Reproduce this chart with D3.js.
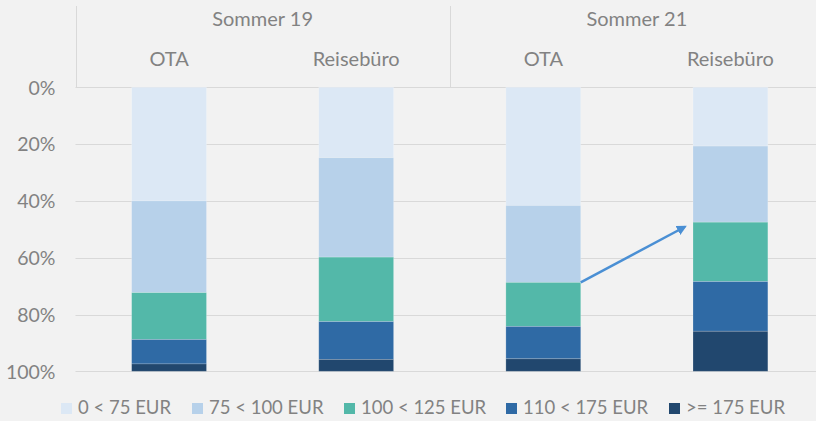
<!DOCTYPE html>
<html lang="de">
<head>
    <meta charset="UTF-8">
    <title>Preisklassen</title>
    <script src="https://d3js.org/d3.v7.min.js"></script>
    <style>
        body { margin: 0; background: #f2f2f2; }
        text { font-family: Lato, "Open Sans", sans-serif; fill: #828282; }
    </style>
</head>
<body>
<script>
    // Daten
    var groups = ['Sommer 19', 'Sommer 21'];
    var channels = ['OTA', 'Reisebüro'];
    var categories = ['S19 OTA', 'S19 Reisebüro', 'S21 OTA', 'S21 Reisebüro'];
    var seriesNames = ['0 < 75 EUR', '75 < 100 EUR', '100 < 125 EUR', '110 < 175 EUR', '>= 175 EUR'];
    var colors = ['#dce8f5', '#b7d1ea', '#53b8a9', '#2f6aa5', '#21476e'];
    // Anteile je Kategorie (von oben nach unten gestapelt)
    var s0 = [0.400, 0.248, 0.416, 0.207];
    var s1 = [0.323, 0.350, 0.271, 0.268];
    var s2 = [0.165, 0.227, 0.155, 0.209];
    var s3 = [0.086, 0.133, 0.114, 0.175];
    var s4 = [0.026, 0.042, 0.044, 0.141];
    var yTicks = [0, 0.2, 0.4, 0.6, 0.8, 1];

    var width = 816;
    var height = 421;
    var svg = d3.select('body').append('svg').attr('width', width).attr('height', height);

    var plotLeft = 75.5, plotRight = 824, plotTop = 87.3, plotBottom = 371.3;

    // Tabelle für d3.stack bauen
    var table = categories.map((c, i) => {
        var row = {cat: c};
        [s0, s1, s2, s3, s4].forEach((s, j) => row[seriesNames[j]] = s[i]);
        return row;
    });
    var stacked = d3.stack().keys(seriesNames)(table);

    var x = d3.scaleBand().domain(categories).range([plotLeft, plotRight])
        .paddingInner(0.6).paddingOuter(0.3);
    var y = d3.scaleLinear().domain([0, 1]).range([plotTop, plotBottom]);

    // Gitternetzlinien
    svg.append('g').selectAll('line').data(yTicks.slice(1)).enter().append('line')
        .attr('x1', plotLeft).attr('x2', width)
        .attr('y1', d => Math.round(y(d)) + 0.5).attr('y2', d => Math.round(y(d)) + 0.5)
        .attr('stroke', '#d9d9d9').attr('stroke-width', 1);

    // Y-Achse
    var yAxis = svg.append('g').attr('transform', 'translate(' + (plotLeft - 20) + ',0)')
        .call(d3.axisLeft(y).tickValues(yTicks).tickFormat(d3.format('.0%')).tickSize(0).tickPadding(0));
    yAxis.select('.domain').remove();
    yAxis.selectAll('text').style('font-size', '19.5px').attr('fill', '#828282').attr('dy', '0.35em');

    // Kopfzeilen (Gruppen + Kanäle)
    var header = svg.append('g');
    var groupWidth = x.step() * 2;
    header.append('line')
        .attr('x1', plotLeft).attr('x2', width)
        .attr('y1', Math.round(y(0)) + 0.5).attr('y2', Math.round(y(0)) + 0.5)
        .attr('stroke', '#d9d9d9');
    [plotLeft, plotLeft + groupWidth].forEach(xx => {
        header.append('line')
            .attr('x1', Math.round(xx) + 0.5).attr('x2', Math.round(xx) + 0.5)
            .attr('y1', 6).attr('y2', y(0))
            .attr('stroke', '#d9d9d9');
    });
    groups.forEach((g, i) => {
        header.append('text')
            .attr('x', plotLeft + groupWidth * (i + 0.5)).attr('y', 26)
            .attr('text-anchor', 'middle').style('font-size', '20px').text(g);
    });
    categories.forEach((c, i) => {
        header.append('text')
            .attr('x', x(c) + x.bandwidth() / 2).attr('y', 66)
            .attr('text-anchor', 'middle').style('font-size', '20px').text(channels[i % 2]);
    });

    // Balken
    svg.append('g').selectAll('g').data(stacked).enter().append('g')
        .attr('fill', (d, i) => colors[i])
        .selectAll('rect').data(d => d).enter().append('rect')
        .attr('x', d => x(d.data.cat))
        .attr('y', d => y(d[0]))
        .attr('width', x.bandwidth())
        .attr('height', d => y(d[1]) - y(d[0]))
        .attr('stroke', '#ffffff').attr('stroke-opacity', 0.25).attr('stroke-width', 0.75);

    // Pfeil
    var arrowColor = '#4a8fd4';
    svg.append('defs').append('marker')
        .attr('id', 'arrow').attr('viewBox', '0 0 10 10')
        .attr('refX', 8).attr('refY', 5)
        .attr('markerWidth', 4).attr('markerHeight', 4)
        .attr('orient', 'auto')
        .append('path').attr('d', 'M0,0 L10,5 L0,10 z').attr('fill', arrowColor);
    var arrowFrom = [x('S21 OTA') + x.bandwidth(), s0[2] + s1[2]];
    var arrowTo = [x('S21 Reisebüro') - 8, 0.491];
    svg.append('line')
        .attr('x1', arrowFrom[0]).attr('y1', y(arrowFrom[1]))
        .attr('x2', arrowTo[0]).attr('y2', y(arrowTo[1]))
        .attr('stroke', arrowColor).attr('stroke-width', 2.5)
        .attr('marker-end', 'url(#arrow)');

    // Legende
    var legendX = [61, 192, 344, 506, 669];
    var legend = svg.append('g').selectAll('g').data(seriesNames).enter().append('g')
        .attr('transform', (d, i) => 'translate(' + legendX[i] + ',403)');
    legend.append('rect').attr('width', 11).attr('height', 11).attr('fill', (d, i) => colors[i]);
    legend.append('text').attr('x', 17).attr('y', 11).style('font-size', '18.5px').text(d => d);
</script>
</body>
</html>
